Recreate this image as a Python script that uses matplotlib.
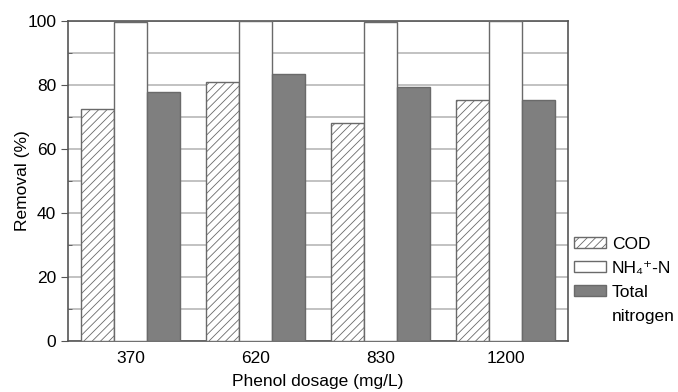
import matplotlib
matplotlib.use("Agg")
import matplotlib.pyplot as plt
from matplotlib.patches import Patch
import numpy as np

plt.rcParams['font.family'] = ['Liberation Sans', 'DejaVu Sans']
plt.rcParams['hatch.color'] = '#bdbdbd'
plt.rcParams['hatch.linewidth'] = 0.6

# data ############################################
dosages = ['370', '620', '830', '1200']
cod = [72.6, 81.0, 68.2, 75.4]
nh4 = [99.8, 100.0, 99.8, 99.9]
total_n = [77.9, 83.5, 79.4, 75.3]
###################################################

fig = plt.figure(figsize=(6.78, 3.92), dpi=100)
ax = fig.add_axes([0.1003, 0.130, 0.7375, 0.816])

x = np.arange(len(dosages))
w = 0.265
edge = '#6a6a6a'

b1 = ax.bar(x - w, cod, w, color='white', edgecolor=edge, hatch='////', linewidth=1.0, zorder=3)
b2 = ax.bar(x, nh4, w, color='white', edgecolor=edge, linewidth=1.0, zorder=3)
b3 = ax.bar(x + w, total_n, w, color='#7f7f7f', edgecolor=edge, linewidth=1.0, zorder=3)

ax.set_xlim(-0.5, len(dosages) - 0.5)
ax.set_ylim(0, 100)
ax.set_xticks(x)
ax.set_xticklabels(dosages, fontsize=12.5)
ax.tick_params(axis='x', length=0, pad=7)
ax.set_yticks(range(0, 101, 20))
ax.set_yticks(range(10, 100, 20), minor=True)
ax.tick_params(axis='y', which='major', labelsize=12.5, length=5, direction='out', color='#555555')
ax.tick_params(axis='y', which='minor', length=3, direction='in', color='#555555')
ax.grid(axis='y', which='both', color='#b8b8b8', linewidth=1.2, zorder=0)
for s in ax.spines.values():
    s.set_color('#555555')
    s.set_linewidth(1.2)

ax.set_xlabel('Phenol dosage (mg/L)', fontsize=12.5, labelpad=6)
ax.set_ylabel('Removal (%)', fontsize=12.5, labelpad=-2)

blank = Patch(facecolor='none', edgecolor='none')
fig.legend([b1, b2, b3, blank], ['COD', 'NH₄⁺-N', 'Total', 'nitrogen'],
           loc='lower left', bbox_to_anchor=(574 / 678, 68 / 392),
           frameon=False, fontsize=12.5, handlelength=1.84, handleheight=0.6,
           handletextpad=0.35, labelspacing=0.52, borderpad=0, borderaxespad=0)

fig.savefig('out.png', dpi=100)
